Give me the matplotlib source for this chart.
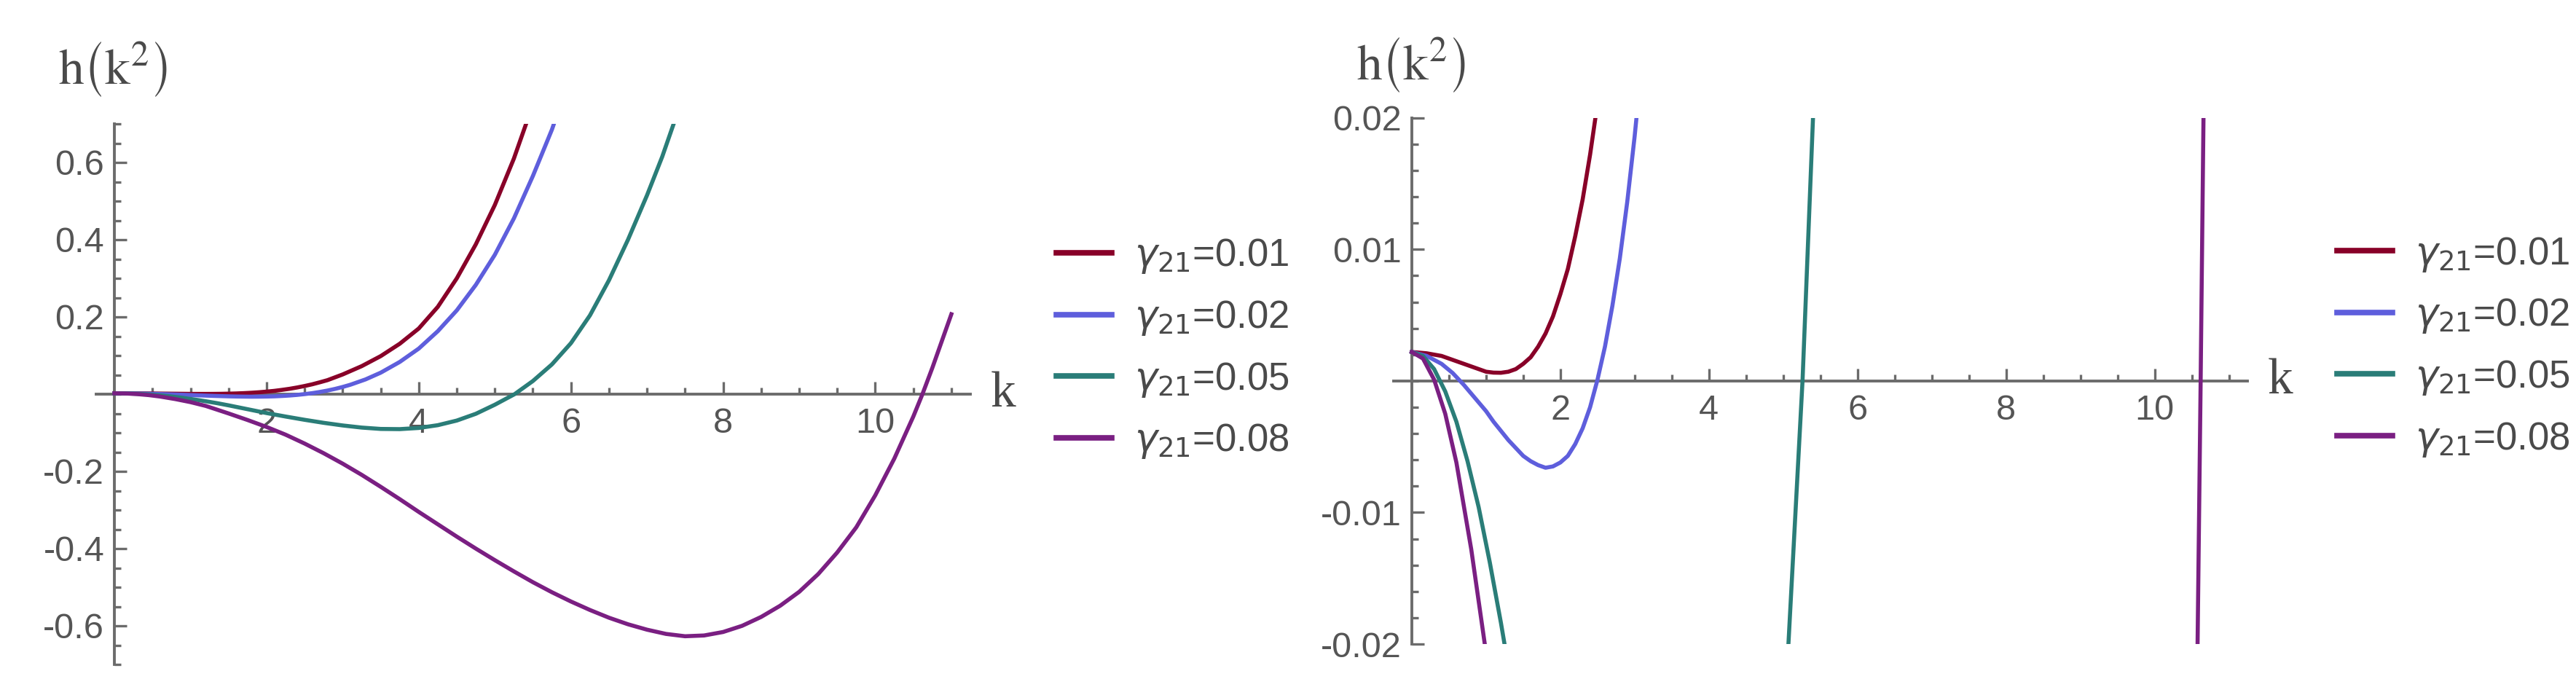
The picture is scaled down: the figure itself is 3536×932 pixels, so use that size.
import numpy as np
import matplotlib.pyplot as plt
from matplotlib.ticker import FixedLocator

# --- 读图得到的数据: k 与 h(k^2), 每条曲线一组 ---
gamma_labels = ["0.01", "0.02", "0.05", "0.08"]

k_g01 = [0.0, 0.2, 0.4, 0.6, 0.8, 0.9, 1.0, 1.1, 1.2, 1.3, 1.4, 1.5, 1.6, 1.7, 1.8, 1.9,
         2.0, 2.1, 2.2, 2.3, 2.4, 2.5, 2.6, 2.7, 2.8, 3.0, 3.25, 3.5, 3.75, 4.0, 4.25,
         4.5, 4.75, 5.0, 5.25, 5.5, 5.6]
h_g01 = [0.0022, 0.0021, 0.0019, 0.0015, 0.0011, 0.0009, 0.0007, 0.00063, 0.00062,
         0.0007, 0.0009, 0.0013, 0.0018, 0.0026, 0.0036, 0.0049, 0.0066, 0.0085, 0.0110,
         0.0138, 0.0172, 0.0211, 0.0255, 0.0307, 0.0362, 0.051, 0.0725, 0.0985, 0.1305,
         0.170, 0.226, 0.300, 0.388, 0.490, 0.610, 0.750, 0.810]

k_g02 = [0.0, 0.2, 0.4, 0.55, 0.7, 0.85, 1.0, 1.1, 1.2, 1.3, 1.4, 1.5, 1.6, 1.7, 1.8,
         1.9, 2.0, 2.1, 2.2, 2.3, 2.4, 2.5, 2.6, 2.7, 2.8, 2.9, 3.0, 3.1, 3.3, 3.5, 3.75,
         4.0, 4.25, 4.5, 4.75, 5.0, 5.25, 5.5, 5.75, 6.0]
h_g02 = [0.0022, 0.0019, 0.0013, 0.0006, -0.0003, -0.0013, -0.0023, -0.0031, -0.0038,
         -0.0045, -0.0051, -0.0057, -0.0061, -0.0064, -0.0066, -0.0065, -0.0062, -0.0057,
         -0.0048, -0.0036, -0.0020, 0.0001, 0.0026, 0.0057, 0.0093, 0.0136, 0.0186,
         0.0243, 0.0381, 0.0556, 0.0834, 0.118, 0.163, 0.217, 0.283, 0.361, 0.455, 0.565,
         0.685, 0.828]

k_g05 = [0.0, 0.15, 0.3, 0.45, 0.6, 0.75, 0.9, 1.05, 1.2, 1.35, 1.5, 1.75, 2.0, 2.25, 2.5,
         2.75, 3.0, 3.25, 3.5, 3.75, 4.0, 4.25, 4.5, 4.75, 5.0, 5.26, 5.5, 5.75, 6.0,
         6.25, 6.5, 6.75, 7.0, 7.2, 7.35, 7.5]
h_g05 = [0.0022, 0.0019, 0.0009, -0.0008, -0.0031, -0.0061, -0.0096, -0.0138, -0.0184,
         -0.0234, -0.0290, -0.039, -0.049, -0.058, -0.0665, -0.0743, -0.0811, -0.0866,
         -0.0901, -0.0906, -0.0876, -0.0804, -0.0684, -0.0509, -0.0274, 0.0, 0.034,
         0.077, 0.132, 0.204, 0.295, 0.400, 0.515, 0.615, 0.700, 0.785]

k_g08 = [0.0, 0.15, 0.3, 0.45, 0.6, 0.8, 1.0, 1.2, 1.5, 1.75, 2.0, 2.25, 2.5, 2.75, 3.0,
         3.25, 3.5, 3.75, 4.0, 4.25, 4.5, 4.75, 5.0, 5.25, 5.5, 5.75, 6.0, 6.25, 6.5,
         6.75, 7.0, 7.25, 7.5, 7.75, 8.0, 8.25, 8.5, 8.75, 9.0, 9.25, 9.5, 9.75, 10.0,
         10.25, 10.5, 10.62, 10.75, 11.0]
h_g08 = [0.0022, 0.0017, 0.0001, -0.0025, -0.0062, -0.0128, -0.0207, -0.0305, -0.050,
         -0.067, -0.085, -0.105, -0.128, -0.153, -0.180, -0.209, -0.240, -0.272, -0.305,
         -0.337, -0.369, -0.400, -0.430, -0.459, -0.487, -0.513, -0.537, -0.559, -0.579,
         -0.596, -0.610, -0.621, -0.627, -0.625, -0.616, -0.600, -0.577, -0.548, -0.512,
         -0.466, -0.410, -0.345, -0.262, -0.167, -0.058, 0.0, 0.068, 0.207]

curves_k = [k_g01, k_g02, k_g05, k_g08]
curves_h = [h_g01, h_g02, h_g05, h_g08]

# 刻度
x_major = [2, 4, 6, 8, 10]
x_major_labels = ["2", "4", "6", "8", "10"]
left_y_major = [-0.6, -0.4, -0.2, 0.2, 0.4, 0.6]
left_y_labels = ["-0.6", "-0.4", "-0.2", "0.2", "0.4", "0.6"]
right_y_major = [-0.02, -0.01, 0.01, 0.02]
right_y_labels = ["-0.02", "-0.01", "0.01", "0.02"]

# --- 样式 ---
colors = ["#880028", "#5E5EDC", "#2A7D78", "#7A1F82"]
axis_gray = "#6b6b6b"
text_gray = "#555555"
label_gray = "#4a4a4a"
W, H = 3536, 932

plt.rcParams["font.family"] = ["Liberation Sans", "DejaVu Sans"]
plt.rcParams["axes.unicode_minus"] = False

fig = plt.figure(figsize=(W / 100, H / 100), dpi=100)

# 轴的位置 (像素 -> 比例)
ax_l = fig.add_axes([132 / W, 1 - 912 / H, 1200 / W, 742 / H])
ax_r = fig.add_axes([1913.5 / W, 1 - 884 / H, 1171.5 / W, 722.3 / H])


def style_axes(ax, ylim, yticks, ylabels, yminor):
    ax.set_xlim(-0.24, 11.25)
    ax.set_ylim(*ylim)
    ax.patch.set_alpha(0)
    for s in ("top", "right"):
        ax.spines[s].set_visible(False)
    for s in ("left", "bottom"):
        ax.spines[s].set_position(("data", 0))
        ax.spines[s].set_color(axis_gray)
        ax.spines[s].set_linewidth(2.8)
    ax.set_xticks(x_major)
    ax.set_xticklabels(x_major_labels)
    ax.xaxis.set_minor_locator(FixedLocator(np.arange(0.5, 11.01, 0.5)))
    ax.set_yticks(yticks)
    ax.set_yticklabels(ylabels)
    ax.yaxis.set_minor_locator(FixedLocator(yminor))
    ax.tick_params(which="both", direction="in", color=axis_gray, width=2.4,
                   labelcolor=text_gray, labelsize=35)
    ax.tick_params(which="major", length=12)
    ax.tick_params(which="minor", length=6.5)
    ax.tick_params(axis="x", pad=13)
    ax.tick_params(axis="y", pad=10)
    # 横轴名 k
    ax.annotate("k", xy=(1, 0), xycoords=("axes fraction", "data"), xytext=(20, 0),
                textcoords="offset points", ha="left", va="center", fontsize=50,
                family="Liberation Serif", color=label_gray)


style_axes(ax_l, (-0.7, 0.7), left_y_major, left_y_labels,
           np.round(np.arange(-0.7, 0.701, 0.05), 3))
style_axes(ax_r, (-0.02, 0.02), right_y_major, right_y_labels,
           np.round(np.arange(-0.02, 0.0201, 0.002), 4))

for ax in (ax_l, ax_r):
    for kk, hh, c, g in zip(curves_k, curves_h, colors, gamma_labels):
        ax.plot(kk, hh, color=c, lw=4.0, zorder=3, label=r"$\gamma_{21}$=" + g)

legend_pos = [(ax_l, 1450 / W, 1 - 479 / H), (ax_r, 3208 / W, 1 - 476 / H)]
for ax, lx, ly in legend_pos:
    leg = ax.legend(loc="center left", bbox_to_anchor=(lx, ly), bbox_transform=fig.transFigure,
                    frameon=False, fontsize=38, handlelength=1.44, handletextpad=0.59,
                    labelspacing=0.6, borderpad=0, borderaxespad=0)
    for line in leg.get_lines():
        line.set_linewidth(5.5)
    for t in leg.get_texts():
        t.set_color(label_gray)

# 纵轴名 h(k^2), 一个文本; 空下标把括号撑高
for x0, y0 in [(80, 95), (1862, 89)]:
    fig.text(x0 / W, 1 - y0 / H, r"$\mathrm{h}\left(\mathrm{k}^{2}_{\;}\right)$",
             fontsize=50, math_fontfamily="stix", color=label_gray,
             ha="left", va="center")

fig.savefig("out.png", dpi=100)
